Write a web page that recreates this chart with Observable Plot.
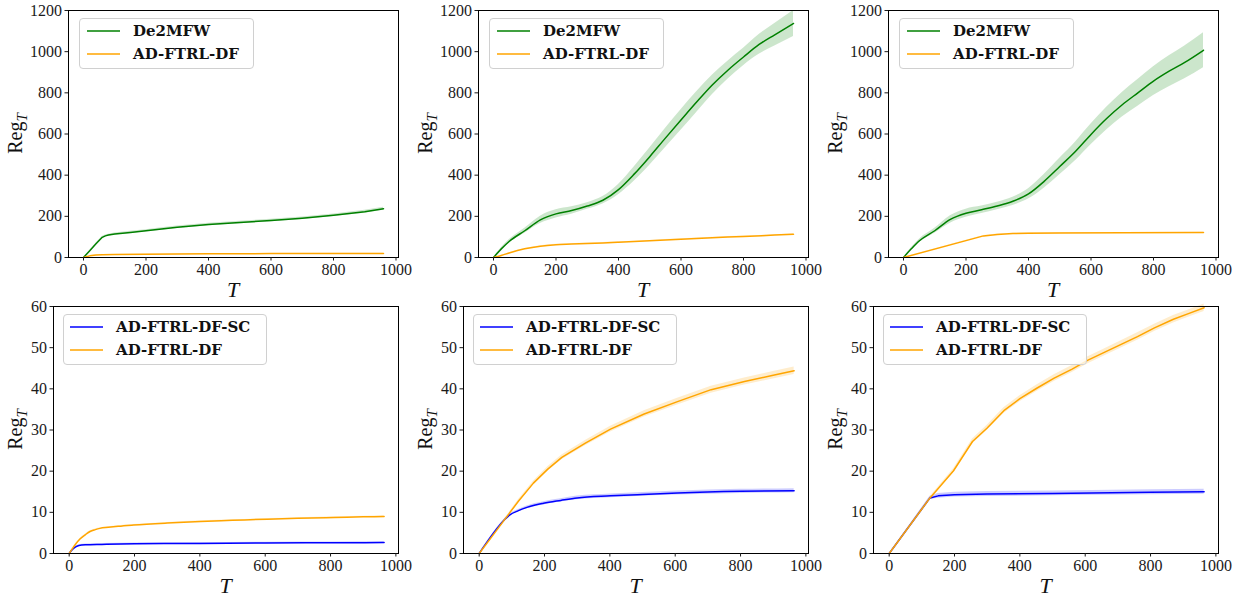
<!DOCTYPE html>
<html><head><meta charset="utf-8">
<script src="https://cdn.jsdelivr.net/npm/d3@7"></script>
<script src="https://cdn.jsdelivr.net/npm/@observablehq/plot@0.6"></script>
<style>
body{margin:0;background:#fff}
#wrap{position:relative;width:1245px;height:600px;overflow:hidden;background:#fff}
.panel{position:absolute}
.legend{position:absolute;border:1px solid #d0d0d0;border-radius:4px;background:rgba(255,255,255,0.8);box-sizing:border-box}
.legend svg{position:absolute;left:0;top:0}
.legend .lab{position:absolute;font-family:"DejaVu Serif",serif;font-weight:bold;font-size:15px;color:#111;white-space:nowrap;line-height:20px}
</style></head>
<body><div id="wrap"></div>
<script>
// ---- tick labels ----
const xTicks = [0, 200, 400, 600, 800, 1000];
const yTicksTop = [0, 200, 400, 600, 800, 1000, 1200];
const yTicksBottom = [0, 10, 20, 30, 40, 50, 60];

// ---- panel A (top-left) ----
const aGreenT = [0, 20, 40, 60, 70, 80, 100, 150, 200, 250, 300, 400, 500, 600, 700, 800, 900, 960];
const aGreenV = [0, 33, 67, 98, 105, 109, 114, 122, 130, 138, 147, 160, 170, 180, 191, 205, 222, 237];
const aGreenSd = [0, 2, 3, 4, 4, 4, 5, 5, 5, 6, 6, 6, 6, 6, 6, 6, 7, 7];
const aOrangeT = [0, 20, 40, 60, 100, 200, 300, 400, 600, 800, 960];
const aOrangeV = [0, 8, 12, 13, 14, 16, 17, 18, 19, 20, 20];
const aOrangeSd = [0, 1, 1, 1, 1, 1, 1, 1, 1, 1, 1];

// ---- panel B (top-middle) ----
const bGreenT = [0, 25, 50, 100, 150, 200, 250, 300, 350, 400, 450, 500, 550, 600, 650, 700, 750, 800, 850, 900, 960];
const bGreenV = [0, 42, 78, 130, 183, 212, 228, 250, 278, 330, 405, 490, 580, 668, 755, 838, 910, 974, 1035, 1082, 1137];
const bGreenSd = [0, 5, 8, 12, 18, 20, 18, 16, 18, 25, 35, 42, 47, 50, 50, 47, 44, 42, 48, 55, 63];
const bOrangeT = [0, 25, 50, 100, 150, 200, 250, 300, 350, 400, 500, 600, 700, 800, 900, 960];
const bOrangeV = [0, 10, 22, 42, 55, 62, 65, 68, 71, 74, 81, 89, 96, 102, 109, 113];
const bOrangeSd = [0, 1, 1, 2, 2, 2, 2, 2, 2, 2, 2, 2, 2, 2, 2, 2];

// ---- panel C (top-right) ----
const cGreenT = [0, 25, 50, 100, 150, 200, 250, 300, 350, 400, 450, 500, 550, 600, 650, 700, 750, 800, 850, 900, 960];
const cGreenV = [0, 42, 80, 130, 185, 215, 232, 250, 273, 309, 370, 442, 515, 598, 675, 742, 800, 857, 905, 948, 1007];
const cGreenSd = [0, 5, 8, 12, 18, 20, 18, 18, 20, 25, 33, 40, 45, 50, 55, 60, 65, 70, 75, 80, 85];
const cOrangeT = [0, 256, 300, 350, 400, 500, 700, 960];
const cOrangeV = [0, 105, 112, 116, 118, 119, 120, 121];
const cOrangeSd = [0, 2, 2, 2, 2, 2, 2, 2];

// ---- panel D (bottom-left) ----
const dBlueT = [0, 10, 20, 30, 50, 100, 200, 400, 600, 800, 964];
const dBlueV = [0, 1.0, 1.6, 1.95, 2.1, 2.2, 2.35, 2.45, 2.55, 2.6, 2.65];
const dBlueSd = [0, 0.1, 0.15, 0.2, 0.2, 0.2, 0.2, 0.2, 0.2, 0.2, 0.2];
const dOrangeT = [0, 10, 20, 33, 50, 64, 80, 94, 120, 150, 197, 300, 402, 500, 607, 700, 812, 900, 964];
const dOrangeV = [0, 1.2, 2.3, 3.5, 4.6, 5.35, 5.8, 6.1, 6.35, 6.6, 6.9, 7.4, 7.8, 8.05, 8.35, 8.55, 8.75, 8.9, 9.0];
const dOrangeSd = [0, 0.1, 0.1, 0.15, 0.15, 0.15, 0.15, 0.15, 0.15, 0.15, 0.15, 0.15, 0.15, 0.15, 0.15, 0.15, 0.15, 0.15, 0.15];

// ---- panel E (bottom-middle) ----
const eBlueT = [0, 79, 94, 120, 146, 197, 250, 300, 402, 500, 607, 800, 964];
const eBlueV = [0, 8.3, 9.4, 10.4, 11.2, 12.2, 12.9, 13.5, 14.0, 14.35, 14.7, 15.1, 15.25];
const eBlueSd = [0, 0.2, 0.25, 0.3, 0.35, 0.4, 0.4, 0.45, 0.45, 0.45, 0.5, 0.5, 0.5];
const eOrangeT = [0, 79, 120, 166, 210, 253, 325, 402, 505, 607, 710, 812, 900, 964];
const eOrangeV = [0, 8.35, 12.7, 17.1, 20.5, 23.35, 26.8, 30.2, 33.9, 36.9, 39.8, 41.8, 43.3, 44.4];
const eOrangeSd = [0, 0.2, 0.35, 0.45, 0.55, 0.6, 0.65, 0.7, 0.75, 0.8, 0.85, 0.85, 0.9, 0.9];

// ---- panel F (bottom-right) ----
const fBlueT = [0, 125, 150, 200, 300, 500, 800, 964];
const fBlueV = [0, 13.5, 14.0, 14.3, 14.45, 14.6, 14.9, 15.0];
const fBlueSd = [0, 0.4, 0.6, 0.6, 0.6, 0.6, 0.6, 0.6];
const fOrangeT = [0, 125, 197, 255, 300, 351, 400, 453, 505, 560, 607, 660, 710, 760, 812, 870, 920, 964];
const fOrangeV = [0, 13.5, 20.1, 27.2, 30.5, 34.7, 37.6, 40.2, 42.6, 44.8, 46.9, 48.9, 50.8, 52.7, 54.8, 56.9, 58.4, 59.7];
const fOrangeSd = [0, 0.3, 0.5, 0.6, 0.65, 0.7, 0.75, 0.8, 0.8, 0.85, 0.85, 0.85, 0.9, 0.9, 0.9, 0.9, 0.9, 0.9];

const topNames = ["De2MFW", "AD-FTRL-DF"];
const bottomNames = ["AD-FTRL-DF-SC", "AD-FTRL-DF"];

const GREEN = "#008000", ORANGE = "#ffa500", BLUE = "#0000ff";

function ser(name, color, T, V, S, curve) {
  return {name, color, curve: curve || "linear", rows: T.map((t, i) => ({T: t, v: V[i], lo: Math.max(0, V[i] - S[i]), hi: V[i] + S[i]}))};
}

const topLayout = {top: 0, height: 300, width: 405, mL: 68, mR: 7, mT: 10, mB: 43, yDomain: [0, 1200], yTicks: yTicksTop, legend: {dx: 11, dy: 8, w: 175, h: 51, lineX: 7, textX: 53}};
const botLayout = {top: 290, height: 310, width: 405, mL: 53, mR: 7, mT: 16, mB: 47, yDomain: [0, 60], yTicks: yTicksBottom, legend: {dx: 10, dy: 8, w: 204, h: 51, lineX: 6, textX: 52}};

const panels = [
  {L: topLayout, left: 0, series: [ser(topNames[0], GREEN, aGreenT, aGreenV, aGreenSd), ser(topNames[1], ORANGE, aOrangeT, aOrangeV, aOrangeSd)]},
  {L: topLayout, left: 410, series: [ser(topNames[0], GREEN, bGreenT, bGreenV, bGreenSd, "monotone-x"), ser(topNames[1], ORANGE, bOrangeT, bOrangeV, bOrangeSd, "monotone-x")]},
  {L: topLayout, left: 820, series: [ser(topNames[0], GREEN, cGreenT, cGreenV, cGreenSd, "monotone-x"), ser(topNames[1], ORANGE, cOrangeT, cOrangeV, cOrangeSd)]},
  {L: botLayout, left: 0, series: [ser(bottomNames[0], BLUE, dBlueT, dBlueV, dBlueSd, "monotone-x"), ser(bottomNames[1], ORANGE, dOrangeT, dOrangeV, dOrangeSd, "monotone-x")]},
  {L: botLayout, left: 410, series: [ser(bottomNames[0], BLUE, eBlueT, eBlueV, eBlueSd, "monotone-x"), ser(bottomNames[1], ORANGE, eOrangeT, eOrangeV, eOrangeSd)]},
  {L: botLayout, left: 820, series: [ser(bottomNames[0], BLUE, fBlueT, fBlueV, fBlueSd), ser(bottomNames[1], ORANGE, fOrangeT, fOrangeV, fOrangeSd)]}
];

const wrap = document.getElementById("wrap");
const SVGNS = "http://www.w3.org/2000/svg";

for (const p of panels) {
  const L = p.L;
  const marks = [];
  for (const s of p.series) {
    marks.push(Plot.areaY(s.rows, {x: "T", y1: "lo", y2: "hi", fill: s.color, fillOpacity: 0.2, curve: s.curve}));
  }
  for (const s of p.series) {
    marks.push(Plot.lineY(s.rows, {x: "T", y: "v", stroke: s.color, strokeWidth: 1.5, curve: s.curve}));
  }
  marks.push(Plot.frame({stroke: "#000", strokeWidth: 1}));
  marks.push(Plot.axisX({ticks: xTicks, tickSize: 3.5, tickPadding: 3, tickFormat: d => String(d), label: null, fontSize: 16}));
  marks.push(Plot.axisY({ticks: L.yTicks, tickSize: 3.5, tickPadding: 3, tickFormat: d => String(d), label: null, fontSize: 16}));
  const chart = Plot.plot({
    width: L.width, height: L.height,
    marginLeft: L.mL, marginRight: L.mR, marginTop: L.mT, marginBottom: L.mB,
    x: {domain: [-48, 1008]},
    y: {domain: L.yDomain},
    style: {fontFamily: "'Liberation Serif', serif", fontSize: "16px", color: "#1a1a1a", background: "transparent", overflow: "visible"},
    marks
  });
  const div = document.createElement("div");
  div.className = "panel";
  div.style.left = p.left + "px";
  div.style.top = L.top + "px";
  div.appendChild(chart);
  wrap.appendChild(div);

  // axis titles
  const svg = d3.select(chart);
  const xr = chart.scale("x").range, yr = chart.scale("y").range;
  const cx = (xr[0] + xr[1]) / 2, cy = (yr[0] + yr[1]) / 2, bottom = Math.max(yr[0], yr[1]);
  svg.append("text")
    .attr("x", cx).attr("y", bottom + 40)
    .attr("text-anchor", "middle")
    .attr("font-family", "'Liberation Serif', serif").attr("font-style", "italic").attr("font-size", 22)
    .attr("fill", "#111").text("T");
  const yl = svg.append("text")
    .attr("transform", `translate(22,${cy}) rotate(-90)`)
    .attr("text-anchor", "middle")
    .attr("font-family", "'Liberation Serif', serif").attr("font-size", 20).attr("fill", "#111");
  yl.append("tspan").text("Reg");
  yl.append("tspan").attr("font-style", "italic").attr("font-size", 15).attr("dy", "0.3em").text("T");

  // legend
  const lg = document.createElement("div");
  lg.className = "legend";
  lg.style.left = (p.left + L.mL + L.legend.dx) + "px";
  lg.style.top = (L.top + L.mT + L.legend.dy) + "px";
  lg.style.width = L.legend.w + "px";
  lg.style.height = L.legend.h + "px";
  const ls = document.createElementNS(SVGNS, "svg");
  ls.setAttribute("width", L.legend.w);
  ls.setAttribute("height", L.legend.h);
  p.series.forEach((s, k) => {
    const yMid = 12 + k * 23;
    const ln = document.createElementNS(SVGNS, "line");
    ln.setAttribute("x1", L.legend.lineX); ln.setAttribute("x2", L.legend.lineX + 33);
    ln.setAttribute("y1", yMid); ln.setAttribute("y2", yMid);
    ln.setAttribute("stroke", s.color); ln.setAttribute("stroke-width", 1.6);
    ls.appendChild(ln);
    const lab = document.createElement("div");
    lab.className = "lab";
    lab.style.left = L.legend.textX + "px";
    lab.style.top = (yMid - 10) + "px";
    lab.textContent = s.name;
    lg.appendChild(lab);
  });
  lg.insertBefore(ls, lg.firstChild);
  wrap.appendChild(lg);
}
</script>
</body></html>
